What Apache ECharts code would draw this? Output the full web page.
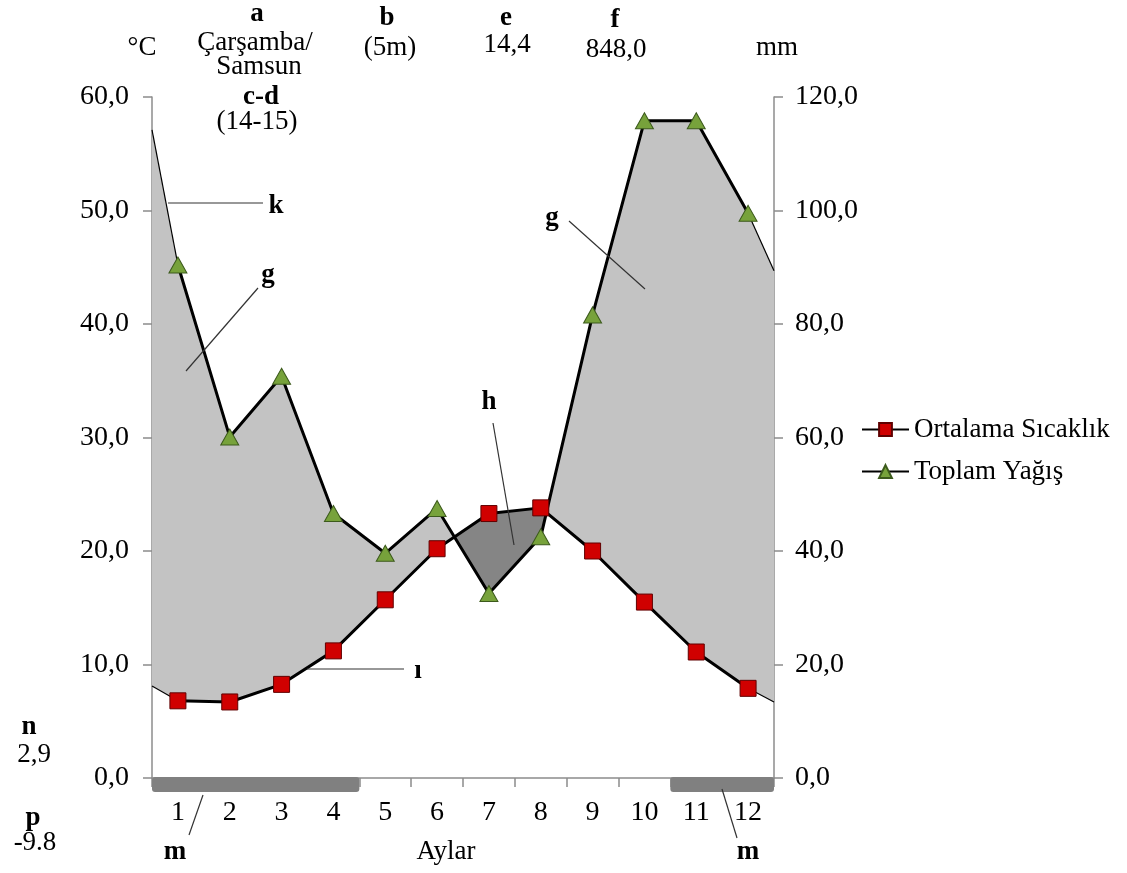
<!DOCTYPE html>
<html>
<head>
<meta charset="utf-8">
<script src="https://cdn.jsdelivr.net/npm/echarts@6/dist/echarts.min.js"></script>
<style>html,body{margin:0;padding:0;background:#fff}#c{width:1127px;height:873px}</style>
</head>
<body>
<div id="c"></div>
<script>
// ---- data ----
var months = ['1','2','3','4','5','6','7','8','9','10','11','12'];
var monthNums = [1,2,3,4,5,6,7,8,9,10,11,12];
var tempC = [6.8, 6.7, 8.25, 11.2, 15.7, 20.2, 23.3, 23.8, 20.0, 15.5, 11.1, 7.9];
var precipMm = [90.4, 60.1, 70.8, 46.6, 39.6, 47.5, 32.5, 42.5, 81.6, 115.8, 115.8, 99.5];
// values where the curves meet the left and right frame (x = 0.5 and 12.5)
var edgeX = [0.5, 12.5];
var tempEdge = [8.1, 6.7];
var precipEdge = [114.2, 89.4];
// frost months (from-to, in month units)
var frostPeriods = [[0.5, 4.5], [10.5, 12.5]];
var leftTicks = {min: 0, max: 60, interval: 10};
var rightTicks = {min: 0, max: 120, interval: 20};

var FONT = 'Liberation Serif, Times New Roman, serif';
var FS = 27;
var AFS = 28;
var ratio = leftTicks.max / rightTicks.max;

// full curves incl. edges, precipitation converted to the °C scale
var xs = [edgeX[0]].concat(monthNums, [edgeX[1]]);
var T = [tempEdge[0]].concat(tempC, [tempEdge[1]]);
var P = [precipEdge[0]].concat(precipMm, [precipEdge[1]]).map(function (v) { return v * ratio; });

function fmt(v) { return v.toFixed(1).replace('.', ','); }

function lightPoly(api) {
  var pts = [];
  for (var i = 0; i < xs.length; i++) pts.push(api.coord([xs[i], P[i]]));
  for (var j = xs.length - 1; j >= 0; j--) pts.push(api.coord([xs[j], T[j]]));
  return pts;
}
function darkPolys(api) {
  var polys = [], up = null, lo = null;
  for (var i = 0; i < xs.length; i++) {
    var d = T[i] - P[i];
    if (i > 0) {
      var dp = T[i - 1] - P[i - 1];
      if ((dp > 0) !== (d > 0) && dp !== d) {
        var t = dp / (dp - d);
        var cx = xs[i - 1] + t * (xs[i] - xs[i - 1]);
        var cy = T[i - 1] + t * (T[i] - T[i - 1]);
        if (up) { up.push([cx, cy]); lo.push([cx, cy]); polys.push([up, lo]); up = null; lo = null; }
        else { up = [[cx, cy]]; lo = [[cx, cy]]; }
      }
    }
    if (d > 0) {
      if (!up) { up = []; lo = []; }
      up.push([xs[i], T[i]]); lo.push([xs[i], P[i]]);
    }
  }
  if (up) polys.push([up, lo]);
  return polys.map(function (pl) {
    var pts = pl[0].map(function (p) { return api.coord(p); });
    var l = pl[1].slice().reverse().map(function (p) { return api.coord(p); });
    return pts.concat(l);
  });
}

function edgeLine(x0, y0, x1, y1, yIdx) {
  return {
    type: 'line', xAxisIndex: 1, yAxisIndex: yIdx, silent: true, symbol: 'none', z: 3,
    data: [[x0, y0], [x1, y1]], lineStyle: {color: '#000', width: 1.2}
  };
}

var chart = echarts.init(document.getElementById('c'), null, {renderer: 'canvas'});

var texts = [
  ['a', 257, 14, true], ['Çarşamba/', 255, 43, false], ['Samsun', 259, 67, false],
  ['c-d', 261, 97, true], ['(14-15)', 257, 122, false],
  ['b', 387, 18, true], ['(5m)', 390, 48, false],
  ['°C', 142, 48, false],
  ['e', 506, 18, true], ['14,4', 507, 45, false],
  ['f', 615, 20, true], ['848,0', 616, 50, false],
  ['mm', 777, 48, false],
  ['k', 276, 206, true], ['g', 268, 275, true], ['g', 552, 218, true],
  ['h', 489, 402, true], ['ı', 418, 671, true],
  ['n', 29, 727, true], ['2,9', 34, 755, false],
  ['p', 33, 818, true], ['-9.8', 35, 843, false],
  ['m', 175, 852, true], ['m', 748, 852, true],
  ['Aylar', 446, 852, false]
];
var leaders = [
  [168, 203, 263, 203], [258, 288, 186, 371], [569, 221, 645, 289],
  [493, 423, 514, 545], [307, 669, 404, 669], [203, 795, 189, 835], [722, 789, 737, 838]
];
var graphics = texts.map(function (t) {
  return {type: 'text', x: t[1], y: t[2], z: 100,
    style: {text: t[0], fill: '#000', font: (t[3] ? 'bold ' : '') + FS + 'px ' + FONT,
      textAlign: 'center', textVerticalAlign: 'middle'}};
}).concat(leaders.map(function (l) {
  return {type: 'line', z: 100, shape: {x1: l[0], y1: l[1], x2: l[2], y2: l[3]},
    style: {stroke: '#333', lineWidth: 1.2}};
}));

var axisGray = '#8c8c8c';
var option = {
  backgroundColor: '#fff',
  animation: false,
  textStyle: {fontFamily: FONT},
  grid: {left: 152, right: 353, top: 97, bottom: 95, containLabel: false},
  legend: {
    orient: 'vertical', left: 861, top: 416, padding: 0, itemWidth: 47, itemHeight: 16, itemGap: 15,
    textStyle: {fontFamily: FONT, fontSize: FS, color: '#000'},
    data: ['Ortalama Sıcaklık', 'Toplam Yağış']
  },
  xAxis: [
    {type: 'category', data: months, boundaryGap: true, position: 'bottom',
      axisLine: {lineStyle: {color: axisGray, width: 1.5}},
      axisTick: {show: true, length: 9, lineStyle: {color: axisGray, width: 1.5}},
      axisLabel: {margin: 21, fontSize: AFS, color: '#000', fontFamily: FONT},
      splitLine: {show: false}},
    {type: 'value', min: edgeX[0], max: edgeX[1], show: false}
  ],
  yAxis: [
    {type: 'value', min: leftTicks.min, max: leftTicks.max, interval: leftTicks.interval, position: 'left',
      axisLine: {show: true, lineStyle: {color: axisGray, width: 1.5}},
      axisTick: {show: true, length: 9, lineStyle: {color: axisGray, width: 1.5}},
      axisLabel: {margin: 23, fontSize: AFS, color: '#000', fontFamily: FONT, formatter: fmt},
      splitLine: {show: false}},
    {type: 'value', min: rightTicks.min, max: rightTicks.max, interval: rightTicks.interval, position: 'right',
      axisLine: {show: true, lineStyle: {color: axisGray, width: 1.5}},
      axisTick: {show: true, length: 9, lineStyle: {color: axisGray, width: 1.5}},
      axisLabel: {margin: 21, fontSize: AFS, color: '#000', fontFamily: FONT, formatter: fmt},
      splitLine: {show: false}}
  ],
  series: [
    {type: 'custom', xAxisIndex: 1, yAxisIndex: 0, silent: true, z: 1, clip: false,
      data: [[1, 0]],
      renderItem: function (params, api) {
        var children = [{type: 'polygon', shape: {points: lightPoly(api)}, style: {fill: '#c3c3c3', stroke: null}}];
        darkPolys(api).forEach(function (pts) {
          children.push({type: 'polygon', shape: {points: pts}, style: {fill: '#858585', stroke: null}});
        });
        return {type: 'group', children: children};
      }},
    {type: 'custom', xAxisIndex: 1, yAxisIndex: 0, silent: true, z: 4, clip: false,
      data: frostPeriods,
      renderItem: function (params, api) {
        var a = api.coord([api.value(0), 0]);
        var b = api.coord([api.value(1), 0]);
        return {type: 'rect', shape: {x: a[0], y: a[1] - 1, width: b[0] - a[0], height: 15, r: 3},
          style: {fill: '#808080'}};
      }},
    edgeLine(edgeX[0], tempEdge[0], monthNums[0], tempC[0], 0),
    edgeLine(monthNums[11], tempC[11], edgeX[1], tempEdge[1], 0),
    edgeLine(edgeX[0], precipEdge[0], monthNums[0], precipMm[0], 1),
    edgeLine(monthNums[11], precipMm[11], edgeX[1], precipEdge[1], 1),
    {name: 'Ortalama Sıcaklık', type: 'line', xAxisIndex: 1, yAxisIndex: 0, z: 5,
      data: monthNums.map(function (m, i) { return [m, tempC[i]]; }),
      symbol: 'rect', symbolSize: 16, showAllSymbol: true,
      lineStyle: {color: '#000', width: 3},
      itemStyle: {color: '#d00000', borderColor: '#600000', borderWidth: 1}},
    {name: 'Toplam Yağış', type: 'line', xAxisIndex: 1, yAxisIndex: 1, z: 5,
      data: monthNums.map(function (m, i) { return [m, precipMm[i]]; }),
      symbol: 'triangle', symbolSize: [18, 16], showAllSymbol: true,
      lineStyle: {color: '#000', width: 3},
      itemStyle: {color: '#77a23b', borderColor: '#3c5a1c', borderWidth: 1}}
  ],
  graphic: graphics
};
chart.setOption(option);
</script>
</body>
</html>
